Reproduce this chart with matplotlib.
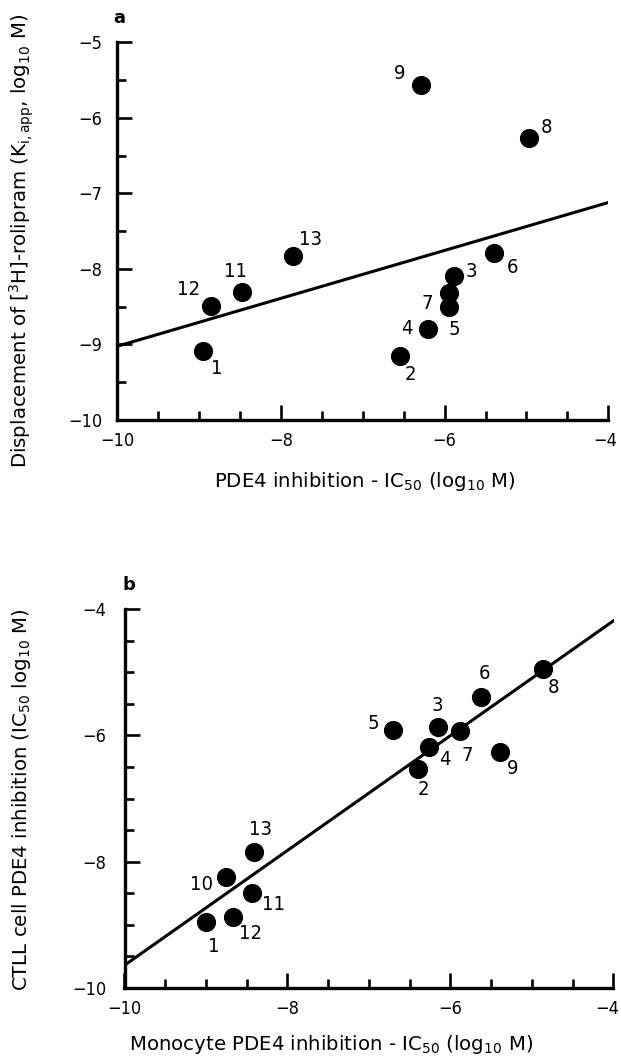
import numpy as np
import matplotlib
matplotlib.use('Agg')
from matplotlib import pyplot as plt
from matplotlib.ticker import MultipleLocator
from matplotlib.transforms import ScaledTranslation

# panel a: PDE4 inhibition vs [3H]-rolipram displacement (log10 M)
ids_a = ['1', '2', '3', '4', '5', '6', '7', '8', '9', '11', '12', '13']
pde4_ic50_a = [-8.95, -6.54, -5.89, -6.20, -5.95, -5.40, -5.95, -4.97, -6.29, -8.48, -8.86, -7.85]
rolipram_ki_a = [-9.08, -9.15, -8.10, -8.79, -8.50, -7.79, -8.32, -6.27, -5.57, -8.30, -8.49, -7.83]
fit_a = (0.317, -5.853)  # slope, intercept of the drawn regression line

# panel b: monocyte vs CTLL cell PDE4 inhibition (log10 M)
ids_b = ['1', '2', '3', '4', '5', '6', '7', '8', '9', '10', '11', '12', '13']
monocyte_ic50_b = [-9.00, -6.40, -6.15, -6.26, -6.70, -5.62, -5.88, -4.86, -5.39, -8.75, -8.44, -8.67, -8.41]
ctll_ic50_b = [-8.96, -6.53, -5.87, -6.18, -5.92, -5.39, -5.93, -4.95, -6.27, -8.25, -8.49, -8.87, -7.85]
fit_b = (0.909, -0.55)

# label offsets in pixels (right, down) from each point
offsets_a = [(13, 18), (10, 19), (18, -5), (-21, 0), (6, 23), (19, 14), (-22, 10),
             (18, -11), (-21, -12), (-6, -20), (-22, -16), (17, -17)]
offsets_b = [(8, 24), (5, 21), (-1, -22), (16, 13), (-20, -7), (3, -23), (7, 25),
             (10, 18), (12, 16), (-25, 7), (22, 12), (18, 17), (6, -23)]

NARROW = ['Liberation Sans Narrow', 'DejaVu Sans']
W, H = 621, 1057

plt.rcParams['mathtext.default'] = 'regular'
plt.rcParams['font.stretch'] = 'condensed'  # numbers in the original are narrow


def style_axes(ax, ylim, ymajor, ypad, last_shift):
    ax.set_xlim(-10, -4)
    ax.set_ylim(*ylim)
    for s in ('top', 'right'):
        ax.spines[s].set_visible(False)
    for s in ('left', 'bottom'):
        ax.spines[s].set_linewidth(2.4)
    ax.xaxis.set_major_locator(MultipleLocator(2))
    ax.xaxis.set_minor_locator(MultipleLocator(0.5))
    ax.yaxis.set_major_locator(MultipleLocator(ymajor))
    ax.yaxis.set_minor_locator(MultipleLocator(0.5))
    ax.tick_params(which='both', direction='in', width=1.9, labelsize=13,
                   labelfontfamily=NARROW)
    ax.tick_params(which='major', length=10.5)
    ax.tick_params(which='minor', length=6.5)
    ax.tick_params(axis='x', pad=9)
    ax.tick_params(axis='y', pad=ypad)
    # the rightmost x label sits a little left of its tick, as in the original
    locs = ax.xaxis.get_majorticklocs()
    ticks = ax.xaxis.get_major_ticks(len(locs))
    for loc, tick in zip(locs, ticks):
        if np.isclose(loc, ax.get_xlim()[1]):
            lbl = tick.label1
            lbl.set_transform(lbl.get_transform()
                              + ScaledTranslation(-last_shift / 100, 0,
                                                  ax.figure.dpi_scale_trans))


def draw_panel(ax, xs, ys, ids, offsets, fit):
    line_x = np.array(ax.get_xlim())
    ax.plot(line_x, fit[0] * line_x + fit[1], color='black', lw=2.2, zorder=2)
    ax.plot(xs, ys, 'o', color='black', ms=12.8, zorder=3, clip_on=False)
    for x, y, label, (dx, dy) in zip(xs, ys, ids, offsets):
        ax.annotate(label, (x, y), xytext=(dx, -dy), textcoords='offset pixels',
                    ha='center', va='center', fontsize=14.5, family=NARROW)


fig = plt.figure(figsize=(W / 100, H / 100), dpi=100)

ax_a = fig.add_axes([117.4 / W, 1 - 420 / H, 490.9 / W, 377.7 / H])
style_axes(ax_a, (-10, -5), 1, 11, 3)
draw_panel(ax_a, pde4_ic50_a, rolipram_ki_a, ids_a, offsets_a, fit_a)

ax_b = fig.add_axes([124.5 / W, 1 - 988 / H, 489 / W, 379 / H])
style_axes(ax_b, (-10, -4), 2, 13, 6)
draw_panel(ax_b, monocyte_ic50_b, ctll_ic50_b, ids_b, offsets_b, fit_b)

fig.text(119 / W, 1 - 18 / H, 'a', weight='bold', ha='center', va='center',
         fontsize=13, fontstretch='normal')
fig.text(129 / W, 1 - 585 / H, 'b', weight='bold', ha='center', va='center',
         fontsize=13, fontstretch='normal')

label_style = dict(ha='center', va='center', fontsize=14.2, fontstretch='normal')
fig.text(22 / W, 1 - 241 / H, 'Displacement of [$^3$H]-rolipram (K$_{i,app}$, log$_{10}$ M)',
         rotation=90, **label_style)
fig.text(365 / W, 1 - 482 / H, 'PDE4 inhibition - IC$_{50}$ (log$_{10}$ M)', **label_style)
fig.text(22 / W, 1 - 800 / H, 'CTLL cell PDE4 inhibition (IC$_{50}$ log$_{10}$ M)',
         rotation=90, **label_style)
fig.text(331 / W, 1 - 1045 / H, 'Monocyte PDE4 inhibition - IC$_{50}$ (log$_{10}$ M)',
         **label_style)

fig.savefig('out.png', dpi=100)
